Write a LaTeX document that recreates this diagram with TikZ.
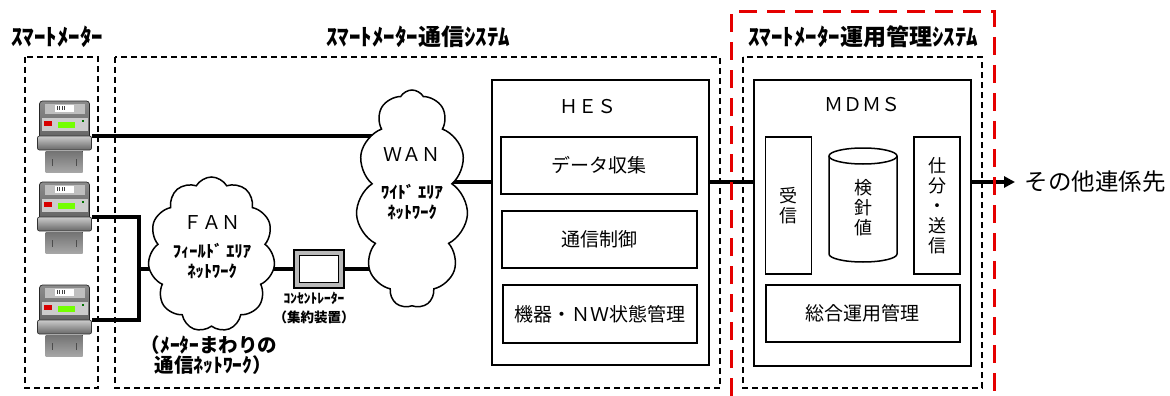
\documentclass[tikz,border=0pt]{standalone}
\usepackage{fontspec}
\setmainfont{Noto Sans CJK JP}
\usepackage{tikz}
\usetikzlibrary{shapes.symbols,arrows.meta,backgrounds}

% electricity meter drawn around its centre (55 x 72)
\tikzset{
  pics/meter/.style={code={
    \draw[draw=black!85, line width=0.7, top color=black!45, bottom color=black!65, rounded corners=3]
      (-25,-35) rectangle (25,12);
    % name plate
    \fill[black!25] (-20,-32) rectangle (20,-22);
    \fill[white] (-10,-31) rectangle (9,-24);
    \foreach \bx in {-8,-5.5,-3,-0.5} \fill[black!75] (\bx,-30) rectangle ++(1.3,4);
    % display row
    \fill[black!20] (-23,-18) rectangle (23,-5);
    \fill[red!85!black] (-21,-15) rectangle (-13,-10);
    \fill[green!55!yellow] (-7,-14) rectangle (10,-8);
    \fill[green!45!black] (17,-16) rectangle (19,-14);
    % lower cover and side knobs
    \draw[draw=black!80, line width=0.7, top color=black!20, bottom color=black!60, rounded corners=2]
      (-27,0) rectangle (27,14);
    % terminal cover
    \fill[top color=black!55, bottom color=black!35] (-19,15) rectangle (18,36);
    \draw[black!70, line width=1] (-12,23) -- (-12,30) (12,23) -- (12,30);
  }}
}

\begin{document}
\begin{tikzpicture}[x=1pt, y=-1pt,
    wire/.style={line width=3.2},
    sysframe/.style={draw, dash pattern=on 6pt off 4pt, line width=1.5},
    redframe/.style={draw=red!90!black, dash pattern=on 18pt off 10pt, line width=3},
    title/.style={font=\bfseries\fontsize{23}{26}\selectfont},
    server/.style={draw, line width=2.2, inner sep=0},
    func/.style={draw, line width=1.5, inner sep=0, font=\fontsize{19}{22}\selectfont},
    vfunc/.style={func, align=center, font=\fontsize{18}{20}\selectfont},
    net/.style={cloud, draw, fill=white, line width=1.5, cloud puffs=11, cloud puff arc=120, inner sep=0},
    nettxt/.style={align=center, font=\bfseries\fontsize{16.5}{20}\selectfont},
    acro/.style={font=\fontsize{19}{22}\selectfont}]

    \useasboundingbox (0,0) rectangle (1170,396);

    % system frames
    \draw[sysframe] (25,57) rectangle (98,388);
    \draw[sysframe] (115,57) rectangle (720,388);
    \draw[sysframe] (743,57) rectangle (982,388);
    \draw[redframe] (731,396) -- (731,12) -- (994,12) -- (994,396);

    \node[title] (tmeter) at (57,37) {ｽﾏｰﾄﾒｰﾀｰ};
    \node[title] (tcomm) at (418,37) {ｽﾏｰﾄﾒｰﾀｰ通信ｼｽﾃﾑ};
    \node[title] (tops) at (863,37) {ｽﾏｰﾄﾒｰﾀｰ運用管理ｼｽﾃﾑ};

    % meters
    \node[minimum width=55, minimum height=72, inner sep=0] (m1) at (64.5,136) {};
    \node[minimum width=55, minimum height=72, inner sep=0] (m2) at (64.5,217) {};
    \node[minimum width=55, minimum height=72, inner sep=0] (m3) at (64.5,320) {};

    % head-end and meter data management
    \node[server, minimum width=217, minimum height=285] (hes) at (600.5,222.5) {};
    \node[acro] (hestxt) at (588,107) {ＨＥＳ};
    \node[func, minimum width=196, minimum height=57] (collect) at (599,165.5) {データ収集};
    \node[func, minimum width=195, minimum height=57] (ctrl) at (599.5,239.5) {通信制御};
    \node[func, minimum width=194, minimum height=58] (state) at (600,314) {機器・ＮＷ状態管理};

    \node[server, minimum width=217, minimum height=286] (mdms) at (862.5,223) {};
    \node[acro] (mdmstxt) at (862,105) {ＭＤＭＳ};
    \node[vfunc, minimum width=46, minimum height=137] (recv) at (788.7,205.3) {受\\信};
    \node[vfunc, minimum width=46, minimum height=137] (send) at (937,205.3) {仕\\分\\・\\送\\信};
    \node[func, minimum width=194, minimum height=57] (mgmt) at (862.8,313.7) {総合運用管理};
    % meter reading store
    \draw[line width=1.5] (829,156) -- (829,254) arc[start angle=180, end angle=0, x radius=34, y radius=8] -- (897,156);
    \draw[line width=1.5] (863,156) ellipse[x radius=34, y radius=8];
    \node[align=center, font=\fontsize{18}{20}\selectfont] (reading) at (863,208) {検\\針\\値};

    \node[anchor=west, font=\fontsize{23.5}{26}\selectfont] (other) at (1021,182) {その他連係先};

    % concentrator and networks
    \node[draw, line width=1.5, fill=gray!55, minimum width=50, minimum height=38, inner sep=0] (conc) at (319,269) {};
    \draw[line width=0.8, fill=white] ([xshift=6,yshift=-6]conc.north west) rectangle ([xshift=-6,yshift=6]conc.south east);
    \node[align=center, font=\bfseries\fontsize{13.5}{19}\selectfont] (conctxt) at (314,308) {ｺﾝｾﾝﾄﾚｰﾀｰ\\（集約装置）};

    \node[net, aspect=0.51, minimum width=112, minimum height=218] (wan) at (412,199) {};
    \node[net, aspect=0.82, minimum width=127, minimum height=155] (fan) at (211.5,254.5) {};

    \node[acro] (wantxt) at (412,155) {ＷＡＮ};
    \node[nettxt] (wanlbl) at (412,202) {ﾜｲﾄﾞ ｴﾘｱ\\ﾈｯﾄﾜｰｸ};
    \node[acro] (fantxt) at (212,223) {ＦＡＮ};
    \node[nettxt] (fanlbl) at (212,261) {ﾌｨｰﾙﾄﾞ ｴﾘｱ\\ﾈｯﾄﾜｰｸ};
    \node[align=center, font=\bfseries\fontsize{19.5}{20}\selectfont] (fannote) at (209,355) {（ﾒｰﾀｰまわりの\\\ \ 通信ﾈｯﾄﾜｰｸ）};

    % links, kept under the clouds
    \coordinate (bus) at (0,182);
    \coordinate (tap) at (139,269);
    \begin{pgfonlayer}{background}
    \draw[wire] (m1.east) -- (m1.east -| wan.center);
    \draw[wire] (m2.east) -| (tap) |- (m3.east);
    \draw[wire] (tap) -- (conc.west);
    \draw[wire] (conc.east) -- (conc.east -| wan.center);
    \draw[wire] (wan.center |- bus) -- (hes.west |- bus);
    \draw[wire] (hes.east |- bus) -- (mdms.west |- bus);
    \draw[wire, -{Triangle[length=11pt, width=11pt]}, shorten >=6pt] (mdms.east |- bus) -- (other.west);
    \end{pgfonlayer}

    \foreach \m in {m1,m2,m3} \pic at (\m) {meter};
\end{tikzpicture}
\end{document}
